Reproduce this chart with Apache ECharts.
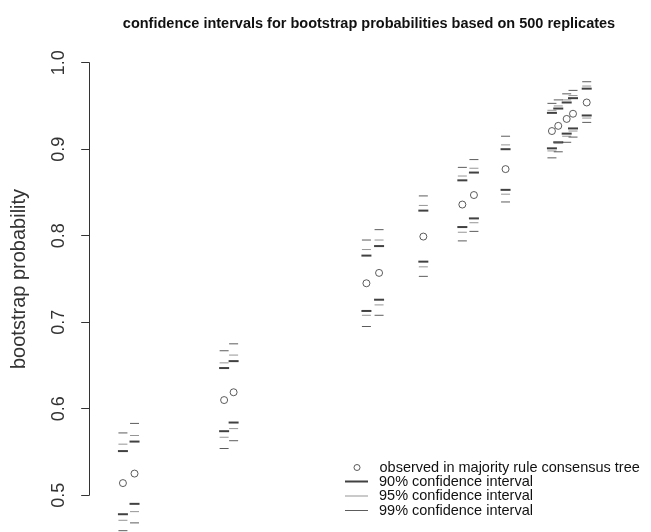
<!DOCTYPE html>
<html>
<head>
<meta charset="utf-8">
<script src="https://cdn.jsdelivr.net/npm/echarts@6/dist/echarts.min.js"></script>
<style>html,body{margin:0;padding:0;background:#fff}#c{width:651px;height:532px}</style>
</head>
<body>
<div id="c"></div>
<script>
// observed bootstrap probabilities (majority rule consensus tree); used as x and y
const observed = [0.514, 0.525, 0.610, 0.619, 0.745, 0.757, 0.799, 0.836, 0.847, 0.877, 0.921, 0.927, 0.935, 0.941, 0.954];
const lower90 = [0.478, 0.490, 0.574, 0.584, 0.713, 0.726, 0.770, 0.810, 0.820, 0.853, 0.901, 0.908, 0.918, 0.924, 0.939];
const upper90 = [0.551, 0.562, 0.647, 0.655, 0.777, 0.788, 0.829, 0.864, 0.873, 0.900, 0.942, 0.947, 0.954, 0.959, 0.970];
const lower95 = [0.471, 0.481, 0.567, 0.577, 0.708, 0.720, 0.764, 0.804, 0.815, 0.848, 0.898, 0.907, 0.915, 0.921, 0.936];
const upper95 = [0.559, 0.569, 0.653, 0.662, 0.784, 0.795, 0.835, 0.869, 0.878, 0.905, 0.945, 0.950, 0.957, 0.962, 0.973];
const lower99 = [0.459, 0.468, 0.554, 0.563, 0.695, 0.708, 0.753, 0.794, 0.805, 0.839, 0.890, 0.897, 0.908, 0.914, 0.931];
const upper99 = [0.572, 0.583, 0.667, 0.675, 0.795, 0.807, 0.846, 0.879, 0.888, 0.915, 0.953, 0.957, 0.964, 0.968, 0.978];
const yTicks = [0.5, 0.6, 0.7, 0.8, 0.9, 1.0];
const titleText = 'confidence intervals for bootstrap probabilities based on 500 replicates';
const legendNames = ['observed in majority rule consensus tree', '90% confidence interval', '95% confidence interval', '99% confidence interval'];

const FONT = '"Liberation Sans", Arial, Helvetica, sans-serif';

function ciData(lo, hi) {
  return observed.map((x, i) => [x, lo[i]]).concat(observed.map((x, i) => [x, hi[i]]));
}

const chart = echarts.init(document.getElementById('c'), null, {renderer: 'canvas'});

const legendRows = [467, 481, 495.5, 510];
function legendItem(idx, icon, w, h, left, pad, itemStyle) {
  return {
    data: [{name: legendNames[idx], icon: icon, itemStyle: itemStyle}],
    left: left, top: legendRows[idx] - 7,
    orient: 'vertical', padding: 0,
    itemWidth: w, itemHeight: h,
    selectedMode: false,
    textStyle: {fontFamily: FONT, fontSize: 14.5, color: '#111', lineHeight: 14, padding: [0, 0, 0, pad]}
  };
}

chart.setOption({
  animation: false,
  backgroundColor: '#fff',
  title: {
    text: titleText, left: 364, top: 11, textAlign: 'center',
    textStyle: {fontFamily: FONT, fontSize: 14.5, fontWeight: 'bold', color: '#111'}
  },
  grid: {left: 89.2, top: 62.7, width: 546, height: 432.5, containLabel: false},
  xAxis: {type: 'value', min: 0.482, max: 1.0, show: false},
  yAxis: {
    type: 'value', min: 0.5, max: 1.0, interval: 0.1,
    axisLine: {show: true, lineStyle: {color: '#333', width: 1}},
    axisTick: {show: true, length: 8, lineStyle: {color: '#333'}},
    splitLine: {show: false},
    axisLabel: {rotate: 90, margin: 21, fontFamily: FONT, fontSize: 18, color: '#333',
      formatter: v => yTicks.includes(Math.round(v * 10) / 10) ? v.toFixed(1) : ''},
    name: 'bootstrap probability', nameLocation: 'middle', nameGap: 60,
    nameTextStyle: {fontFamily: FONT, fontSize: 20, color: '#333'}
  },
  legend: [
    legendItem(0, 'circle', 6, 6, 353.5, 14.5, {color: '#fff', borderColor: '#333', borderWidth: 1}),
    legendItem(1, 'rect', 23, 2, 345, 6),
    legendItem(2, 'rect', 23, 1, 345, 6),
    legendItem(3, 'rect', 23, 1, 345, 6)
  ],
  series: [
    {name: legendNames[1], type: 'scatter', clip: false, symbol: 'rect', symbolSize: [10, 2],
      itemStyle: {color: '#111'}, data: ciData(lower90, upper90)},
    {name: legendNames[2], type: 'scatter', clip: false, symbol: 'rect', symbolSize: [9, 1],
      itemStyle: {color: '#7a7a7a'}, data: ciData(lower95, upper95)},
    {name: legendNames[3], type: 'scatter', clip: false, symbol: 'rect', symbolSize: [9, 1],
      itemStyle: {color: '#333'}, data: ciData(lower99, upper99)},
    {name: legendNames[0], type: 'scatter', clip: false, symbol: 'circle', symbolSize: 7,
      itemStyle: {color: '#fff', borderColor: '#333', borderWidth: 1}, data: observed.map(v => [v, v])}
  ]
});
</script>
</body>
</html>
